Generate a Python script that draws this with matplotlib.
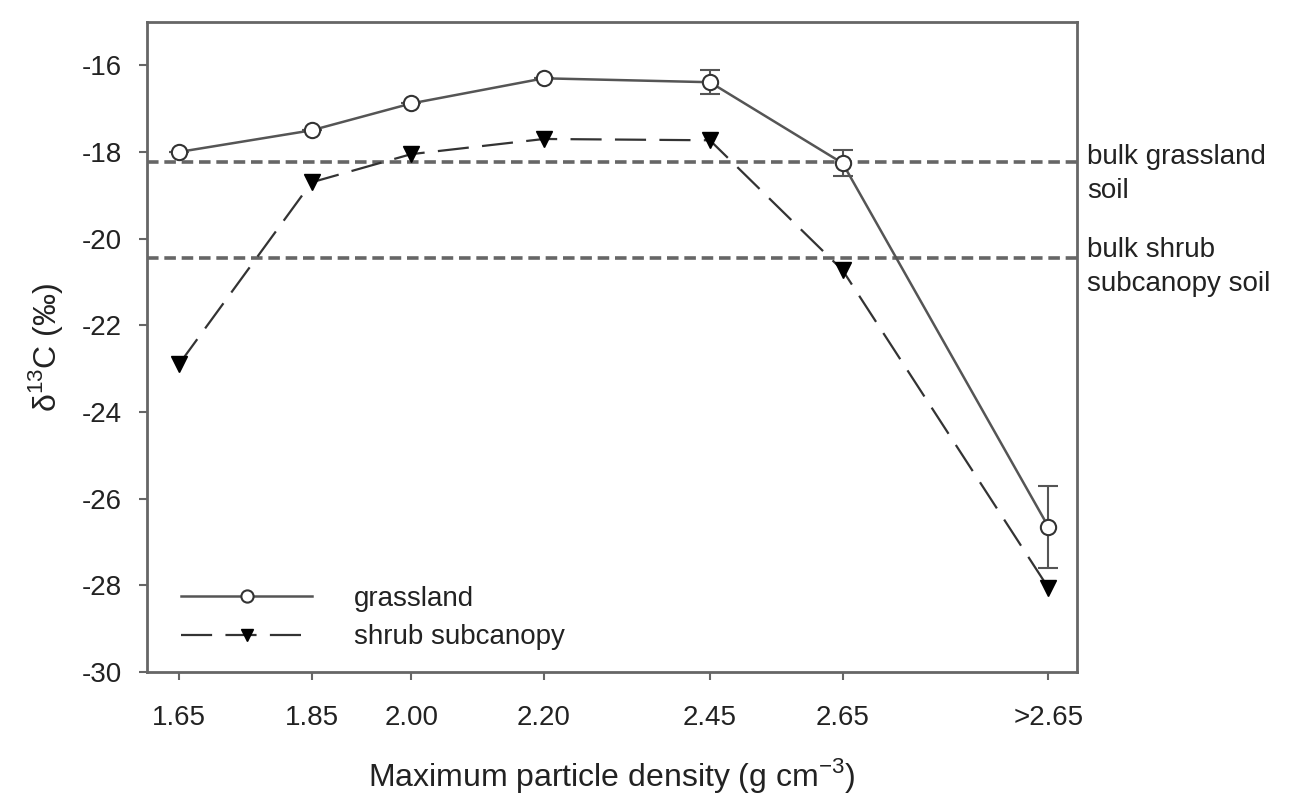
import numpy as np
import matplotlib
matplotlib.use("Agg")
import matplotlib.pyplot as plt

plt.rcParams['font.family'] = ['Liberation Sans', 'DejaVu Sans']
plt.rcParams['axes.unicode_minus'] = False

# data
density_pos = [1.65, 1.85, 2.00, 2.20, 2.45, 2.65, 2.96]
density_labels = ['1.65', '1.85', '2.00', '2.20', '2.45', '2.65', '>2.65']
grassland = [-18.0, -17.5, -16.88, -16.3, -16.39, -18.26, -26.65]
grassland_err = [0, 0, 0, 0, 0.28, 0.3, 0.95]
shrub = [-22.9, -18.7, -18.05, -17.7, -17.73, -20.73, -28.06]
bulk_grass = -18.24
bulk_shrub = -20.45

fig = plt.figure(figsize=(12.98, 8.02), dpi=100)
ax = fig.add_axes([0.1133, 0.1621, 0.7164, 0.8105])

txt = '#222222'
ax.axhline(bulk_grass, color='#666666', lw=2.6, ls=(0, (3.2, 1.6)), zorder=1)
ax.axhline(bulk_shrub, color='#666666', lw=2.6, ls=(0, (3.2, 1.6)), zorder=1)

ax.errorbar(density_pos, grassland, yerr=grassland_err, fmt='none',
            ecolor='#555555', elinewidth=1.5, capsize=7, capthick=1.5, zorder=2)
ax.plot(density_pos, grassland, color='#555555', lw=1.8, marker='o', ms=11,
        mfc='white', mec='#333333', mew=1.5, label='grassland', zorder=3)
ax.plot(density_pos, shrub, color='#333333', lw=1.6, ls=(0, (14, 6)), marker='v',
        ms=11, mfc='black', mec='black', label='shrub subcanopy', zorder=3)

ax.set_xlim(1.602, 3.003)
ax.set_ylim(-30, -15)
ax.set_xticks(density_pos)
ax.set_xticklabels(density_labels)
ax.set_yticks(np.arange(-30, -15, 2))

for s in ax.spines.values():
    s.set_color('#666666')
    s.set_linewidth(2)
ax.tick_params(direction='out', length=6, width=1.5, color='#666666',
               labelsize=20, labelcolor=txt)
ax.tick_params(axis='x', pad=18)
ax.tick_params(axis='y', pad=12)

ax.set_xlabel('Maximum particle density (g cm$^{\\mathregular{-3}}$)', fontsize=23,
              color=txt, labelpad=18)
ax.set_ylabel('δ$^{\\mathregular{13}}$C (‰)', fontsize=23, color=txt, labelpad=12)

ax.text(1.011, bulk_grass - 0.27, 'bulk grassland\nsoil', transform=ax.get_yaxis_transform(),
        fontsize=20, color=txt, va='center', ha='left', linespacing=1.4)
ax.text(1.011, bulk_shrub - 0.2, 'bulk shrub\nsubcanopy soil', transform=ax.get_yaxis_transform(),
        fontsize=20, color=txt, va='center', ha='left', linespacing=1.4)

leg = ax.legend(loc='lower left', bbox_to_anchor=(0.01, -0.005), frameon=False, fontsize=20,
                handlelength=4.7, handletextpad=1.5, labelcolor=txt, labelspacing=0.45,
                markerscale=0.8)

fig.savefig('out.png', dpi=100)
